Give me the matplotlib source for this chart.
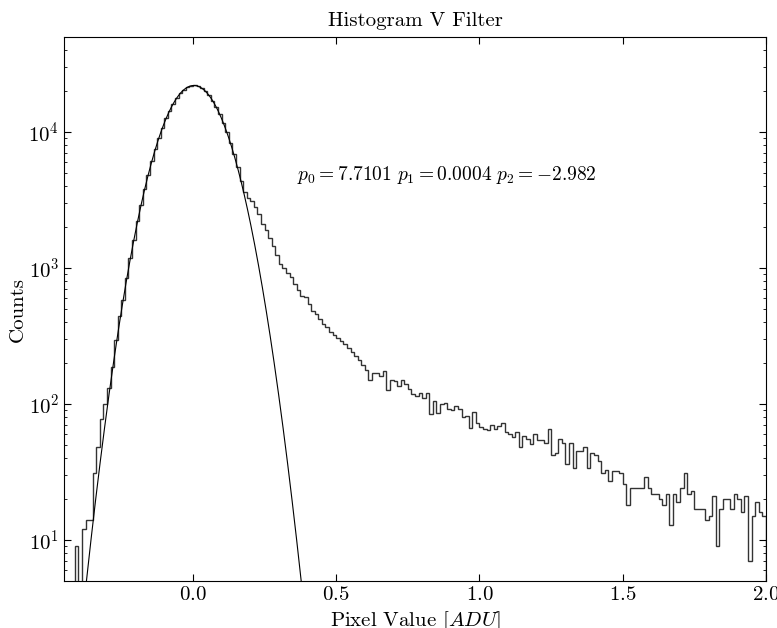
import numpy as np
import matplotlib
matplotlib.use('Agg')
import matplotlib.pyplot as plt
from matplotlib.ticker import FuncFormatter

plt.rcParams['font.family'] = 'cmr10'
plt.rcParams['mathtext.fontset'] = 'cm'
plt.rcParams['axes.unicode_minus'] = False
plt.rcParams['axes.formatter.use_mathtext'] = True

# histogram counts (bins of 0.0125 ADU from -0.45 to 2.0)
counts = [
    0, 0, 0, 9, 3, 12, 14, 14, 31, 48, 78, 100, 131, 187, 294, 442,
    580, 850, 1190, 1620, 2200, 2890, 3800, 4830, 6100, 7480, 9100, 10800,
    12600, 14400, 16200, 17800, 19300, 20500, 21400, 21900, 22000, 21700,
    21000, 19900, 18600, 17000, 15300, 13500, 11700, 9950, 8350, 6850, 5550,
    4400, 3600, 3250, 3100, 2800, 2500, 2100, 1900, 1650, 1450, 1250, 1080,
    1000, 920, 860, 760, 690, 620, 610, 540, 480, 460, 420, 390, 370, 340,
    320, 305, 290, 275, 260, 240, 225, 210, 195, 178, 150, 170, 168, 160,
    175, 126, 150, 148, 135, 150, 140, 130, 118, 115, 120, 110, 120, 85,
    105, 86, 100, 102, 92, 90, 97, 92, 80, 82, 67, 87, 72, 68, 66, 64, 70,
    66, 69, 72, 62, 60, 57, 62, 48, 58, 55, 51, 60, 54, 54, 52, 66, 42, 44,
    55, 52, 36, 52, 34, 45, 45, 48, 34, 44, 42, 38, 31, 33, 27, 32, 32, 31,
    26, 18, 24, 24, 24, 24, 29, 24, 22, 22, 20, 18, 22, 13, 22, 19, 24, 31,
    22, 23, 17, 17, 17, 14, 15, 21, 9, 17, 20, 20, 17, 22, 20, 16, 21, 7,
    15, 19, 16, 15,
]
bin_lo, bin_hi = -0.45, 2.0

# gaussian fit (amplitude, centre, width)
fit_amp = 22000.0
fit_mu = 0.003
fit_sigma = 0.0915
fit_label = r'$p_0 = 7.7101\ p_1 = 0.0004\ p_2 = -2.982$'

edges = np.linspace(bin_lo, bin_hi, len(counts) + 1)
xf = np.linspace(-0.45, 0.45, 400)
yf = fit_amp * np.exp(-(xf - fit_mu) ** 2 / (2 * fit_sigma ** 2))

fig = plt.figure(figsize=(7.77, 6.28), dpi=100)
ax = fig.add_axes([0.0824, 0.0748, 0.9034, 0.8663])

ax.stairs(counts, edges, color='#333333', linewidth=1.0)
ax.plot(xf, yf, color='black', linewidth=0.8)

ax.set_yscale('log')
ax.set_xlim(-0.45, 2.0)
ax.set_ylim(5, 5e4)
ax.set_xticks([0.0, 0.5, 1.0, 1.5, 2.0])
ax.xaxis.set_major_formatter(FuncFormatter(lambda v, p: '$%.1f$' % v))

ax.tick_params(which='both', direction='in', top=True, right=True, labelsize=15)
ax.tick_params(which='major', length=5)
ax.tick_params(which='minor', length=2.5)

ax.text(0.362, 4810, fit_label, fontsize=14, va='center')

ax.set_title('Histogram V Filter', fontsize=15, pad=8)
ax.set_xlabel(r'Pixel Value $[ADU]$', fontsize=15)
ax.set_ylabel('Counts', fontsize=15, labelpad=1)

plt.savefig('out.png', dpi=100)
